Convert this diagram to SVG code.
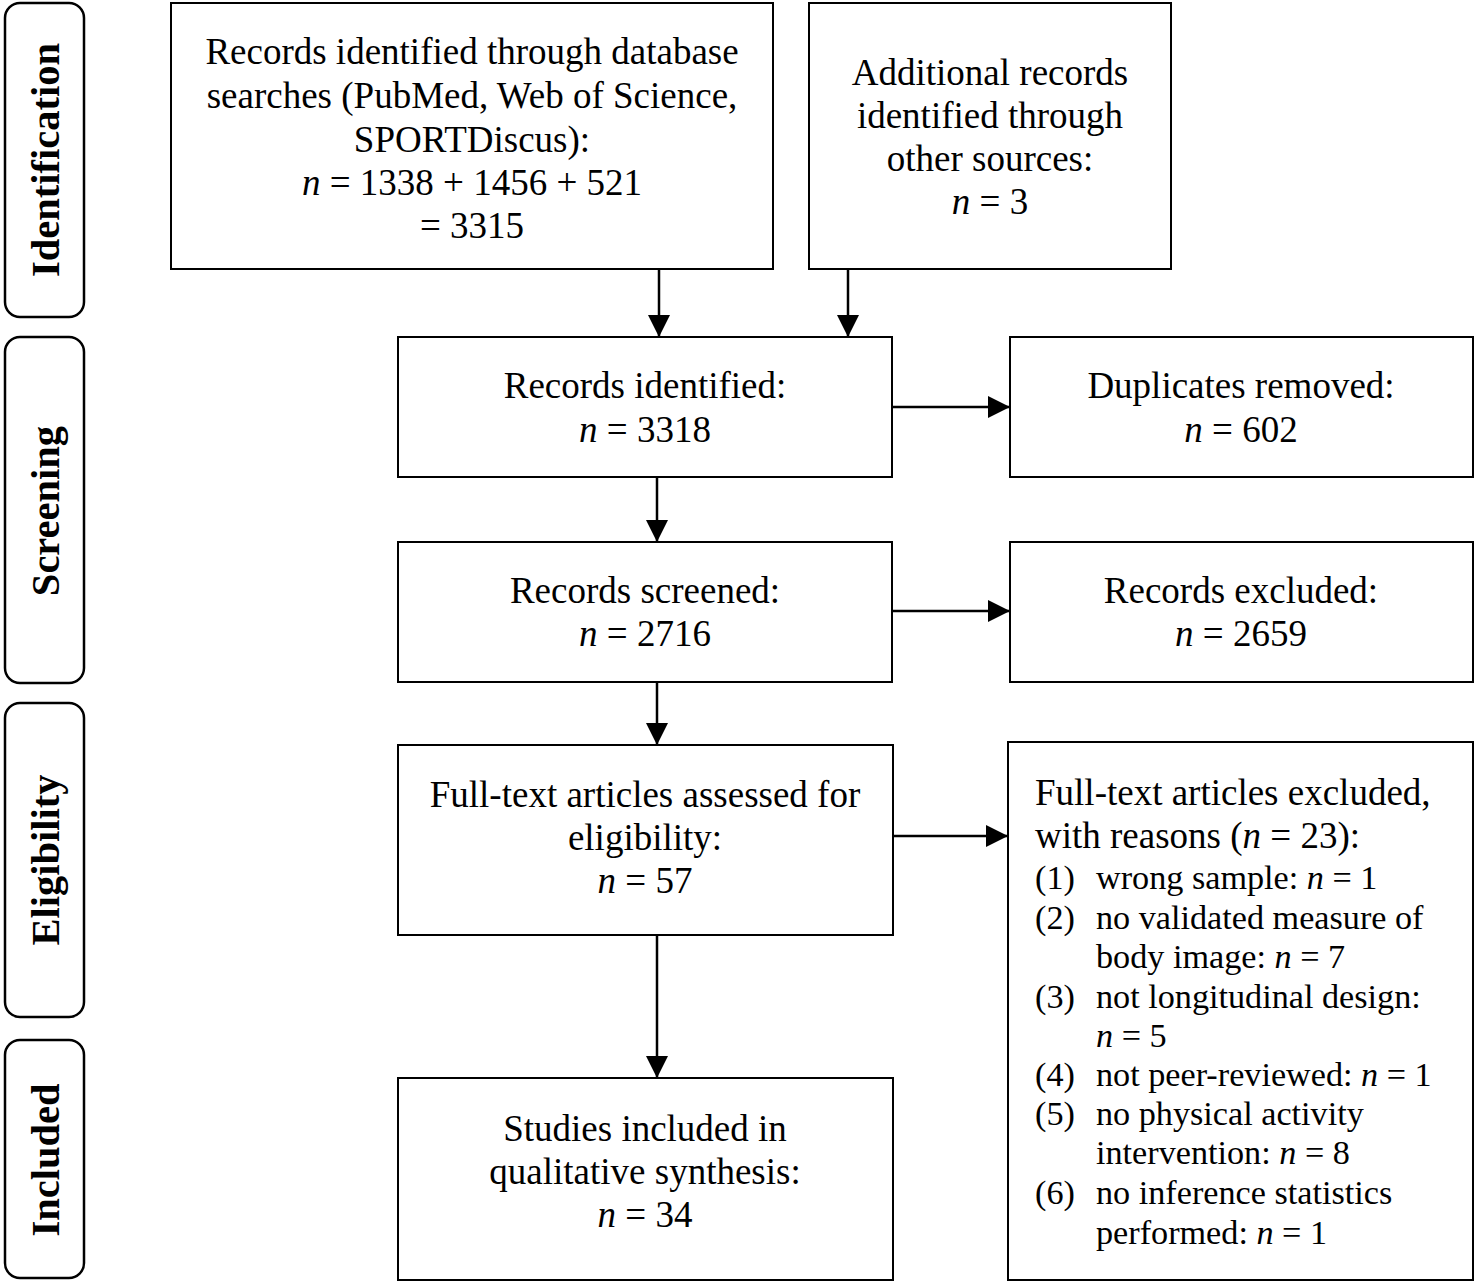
<svg xmlns="http://www.w3.org/2000/svg" width="1476" height="1283" viewBox="0 0 1476 1283">
<style>
text{font-family:"Liberation Serif","Times New Roman",serif;font-size:37px;fill:#000}
.c{text-anchor:middle}
.ph{font-weight:bold;font-size:40.5px;text-anchor:middle}
.box{fill:#fff;stroke:#000;stroke-width:2}
.pbox{fill:#fff;stroke:#000;stroke-width:2.5}
.i{font-style:italic}
.li{font-size:34.2px}
.con line{stroke:#000;stroke-width:2.5}
</style>
<defs>
<marker id="ah" markerUnits="userSpaceOnUse" markerWidth="22" markerHeight="22" viewBox="0 0 20 20" refX="20" refY="10" orient="auto">
<path d="M0,0 L20,10 L0,20 Z" fill="#000"/>
</marker>
</defs>
<rect width="1476" height="1283" fill="#fff"/>

<g id="phase-identification">
<rect class="pbox" x="5" y="3" width="79" height="314" rx="15"/>
<text class="ph" transform="translate(59,160) rotate(-90)">Identification</text>
</g>
<g id="phase-screening">
<rect class="pbox" x="5" y="337" width="79" height="346" rx="15"/>
<text class="ph" transform="translate(59,511) rotate(-90)">Screening</text>
</g>
<g id="phase-eligibility">
<rect class="pbox" x="5" y="703" width="79" height="314" rx="15"/>
<text class="ph" transform="translate(59,860) rotate(-90)">Eligibility</text>
</g>
<g id="phase-included">
<rect class="pbox" x="5" y="1040" width="79" height="238" rx="15"/>
<text class="ph" transform="translate(59,1160) rotate(-90)">Included</text>
</g>

<g id="db-records">
<rect class="box" x="171" y="3" width="602" height="266"/>
<text class="c" x="472" y="64">Records identified through database</text>
<text class="c" x="472" y="108">searches (PubMed, Web of Science,</text>
<text class="c" x="472" y="152">SPORTDiscus):</text>
<text class="c" x="472" y="195"><tspan class="i">n</tspan> = 1338 + 1456 + 521</text>
<text class="c" x="472" y="238">= 3315</text>
</g>
<g id="other-records">
<rect class="box" x="809" y="3" width="362" height="266"/>
<text class="c" x="990" y="85">Additional records</text>
<text class="c" x="990" y="128">identified through</text>
<text class="c" x="990" y="171">other sources:</text>
<text class="c" x="990" y="214"><tspan class="i">n</tspan> = 3</text>
</g>
<g id="records-identified">
<rect class="box" x="398" y="337" width="494" height="140"/>
<text class="c" x="645" y="398">Records identified:</text>
<text class="c" x="645" y="442"><tspan class="i">n</tspan> = 3318</text>
</g>
<g id="duplicates">
<rect class="box" x="1010" y="337" width="463" height="140"/>
<text class="c" x="1241" y="398">Duplicates removed:</text>
<text class="c" x="1241" y="442"><tspan class="i">n</tspan> = 602</text>
</g>
<g id="records-screened">
<rect class="box" x="398" y="542" width="494" height="140"/>
<text class="c" x="645" y="603">Records screened:</text>
<text class="c" x="645" y="646"><tspan class="i">n</tspan> = 2716</text>
</g>
<g id="records-excluded">
<rect class="box" x="1010" y="542" width="463" height="140"/>
<text class="c" x="1241" y="603">Records excluded:</text>
<text class="c" x="1241" y="646"><tspan class="i">n</tspan> = 2659</text>
</g>
<g id="fulltext-assessed">
<rect class="box" x="398" y="745" width="495" height="190"/>
<text class="c" x="645" y="807">Full-text articles assessed for</text>
<text class="c" x="645" y="850">eligibility:</text>
<text class="c" x="645" y="893"><tspan class="i">n</tspan> = 57</text>
</g>
<g id="fulltext-excluded">
<rect class="box" x="1008" y="742" width="465" height="538"/>
<text x="1035" y="805">Full-text articles excluded,</text>
<text x="1035" y="848">with reasons (<tspan class="i">n</tspan> = 23):</text>
<g class="li">
<text class="li" x="1035" y="889">(1)</text><text class="li" x="1096" y="889">wrong sample: <tspan class="i">n</tspan> = 1</text>
<text class="li" x="1035" y="929">(2)</text><text class="li" x="1096" y="929">no validated measure of</text>
<text class="li" x="1096" y="968">body image: <tspan class="i">n</tspan> = 7</text>
<text class="li" x="1035" y="1008">(3)</text><text class="li" x="1096" y="1008">not longitudinal design:</text>
<text class="li" x="1096" y="1047"><tspan class="i">n</tspan> = 5</text>
<text class="li" x="1035" y="1086">(4)</text><text class="li" x="1096" y="1086">not peer-reviewed: <tspan class="i">n</tspan> = 1</text>
<text class="li" x="1035" y="1125">(5)</text><text class="li" x="1096" y="1125">no physical activity</text>
<text class="li" x="1096" y="1164">intervention: <tspan class="i">n</tspan> = 8</text>
<text class="li" x="1035" y="1204">(6)</text><text class="li" x="1096" y="1204">no inference statistics</text>
<text class="li" x="1096" y="1244">performed: <tspan class="i">n</tspan> = 1</text>
</g>
</g>
<g id="studies-included">
<rect class="box" x="398" y="1078" width="495" height="202"/>
<text class="c" x="645" y="1141">Studies included in</text>
<text class="c" x="645" y="1184">qualitative synthesis:</text>
<text class="c" x="645" y="1227"><tspan class="i">n</tspan> = 34</text>
</g>

<g id="connectors" class="con">
<line x1="659" y1="269" x2="659" y2="337" marker-end="url(#ah)"/>
<line x1="848" y1="269" x2="848" y2="337" marker-end="url(#ah)"/>
<line x1="892" y1="407" x2="1010" y2="407" marker-end="url(#ah)"/>
<line x1="657" y1="477" x2="657" y2="542" marker-end="url(#ah)"/>
<line x1="892" y1="611" x2="1010" y2="611" marker-end="url(#ah)"/>
<line x1="657" y1="682" x2="657" y2="745" marker-end="url(#ah)"/>
<line x1="893" y1="836" x2="1008" y2="836" marker-end="url(#ah)"/>
<line x1="657" y1="935" x2="657" y2="1078" marker-end="url(#ah)"/>
</g>
</svg>
